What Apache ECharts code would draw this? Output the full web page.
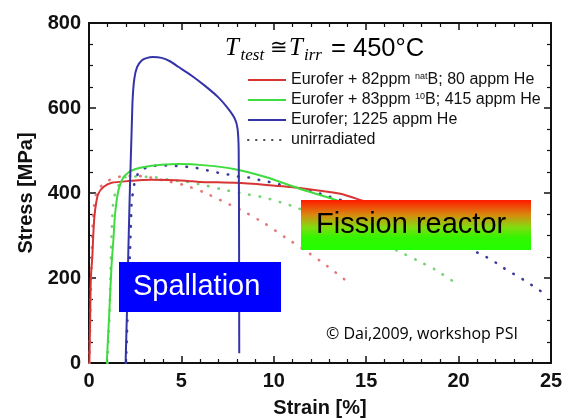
<!DOCTYPE html>
<html><head><meta charset="utf-8">
<script src="https://cdn.jsdelivr.net/npm/echarts@6/dist/echarts.min.js"></script>
<style>html,body{margin:0;padding:0;background:#fff}#c{width:571px;height:418px}</style>
</head><body><div id="c"></div>
<script>
// ---- data (strain %, stress MPa) ----
const redStrain = [0.02, 0.06, 0.1, 0.18, 0.23, 0.29, 0.38, 0.5, 0.78, 1.23, 2.1, 3.4, 5.2, 6.0, 7.9, 9.6, 11.4, 13.6, 14.8, 15.3];
const redStress = [0, 100, 200, 250, 300, 343, 375, 398, 414, 424, 428, 431, 429, 426, 424, 419, 412, 398, 382, 375];

const greenStrain = [0.96, 1.1, 1.22, 1.32, 1.41, 1.59, 1.86, 2.31, 3.39, 4.83, 6.3, 7.9, 9.6, 11.4, 13.2, 14.5, 15.5];
const greenStress = [0, 120, 230, 290, 350, 406, 437, 453, 464, 468, 465, 456, 437, 410, 386, 365, 345];

const blueStrain = [1.98, 2.06, 2.13, 2.22, 2.31, 2.36, 2.45, 2.6, 2.85, 3.15, 3.45, 3.93, 4.38, 4.83, 5.56, 6.28, 7.0, 7.54, 7.9, 8.04, 8.1, 8.12, 8.13];
const blueStress = [0, 130, 265, 420, 551, 620, 668, 696, 712, 718, 720, 718, 710, 697, 676, 652, 625, 598, 574, 551, 500, 300, 23];

const redUnirrStrain = [0.03, 0.06, 0.1, 0.14, 0.23, 0.41, 0.87, 1.41, 1.95, 2.49, 3.03, 4.11, 5.2, 6.19, 7.36, 8.44, 9.52, 10.6, 11.69, 12.77, 13.85];
const redUnirrStress = [0, 80, 170, 242, 352, 402, 425, 436, 440, 440, 439, 429, 418, 402, 378, 355, 328, 296, 265, 232, 196];

const greenUnirrStrain = [1.0, 1.06, 1.1, 1.16, 1.22, 1.32, 1.5, 1.77, 1.95, 2.49, 3.57, 4.65, 5.2, 6.28, 7.36, 8.44, 9.52, 10.6, 11.15, 12, 13, 14, 15, 16, 16.65, 17.73, 18.72, 19.71];
const greenUnirrStress = [0, 70, 100, 200, 300, 382, 410, 429, 437, 439, 437, 429, 427, 418, 407, 398, 389, 375, 367, 352, 336, 318, 298, 278, 265, 242, 220, 192];

const blueUnirrStrain = [2.0, 2.1, 2.22, 2.31, 2.4, 2.49, 2.76, 3.39, 3.93, 4.47, 5.02, 5.56, 6.1, 6.64, 7.18, 7.72, 8.26, 8.8, 9.35, 9.89, 10.43, 11.5, 12.14, 12.68, 14, 15.5, 17, 18.5, 20, 20.8, 21.34, 21.88, 22.42, 22.96, 23.5, 24.04, 24.58];
const blueUnirrStress = [0, 130, 265, 382, 406, 429, 453, 463, 465, 465, 462, 461, 456, 451, 446, 442, 437, 436, 429, 425, 419, 410, 404, 396, 378, 355, 330, 305, 280, 264, 253, 240, 224, 210, 196, 181, 165];

const seriesNames = [
  'Eurofer + 82ppm natB; 80 appm He',
  'Eurofer + 83ppm 10B; 415 appm He',
  'Eurofer; 1225 appm He',
  'unirradiated'
];
const legendLabels = [
  'Eurofer + 82ppm {sup|nat}B; 80 appm He',
  'Eurofer + 83ppm {sup|10}B; 415 appm He',
  'Eurofer; 1225 appm He',
  'unirradiated'
];
const xRange = [0, 25];
const yRange = [0, 800];

const zip = (a, b) => a.map((v, i) => [v, b[i]]);

const SANS = '"Liberation Sans", Arial, sans-serif';
const SERIF = '"Liberation Serif", "DejaVu Serif", serif';
const INK = '#111';

function axisCommon(showLabel, interval, minorSplit) {
  return {
    type: 'value',
    interval: interval,
    axisLine: { show: true, onZero: false, lineStyle: { color: INK, width: 2 } },
    axisTick: { show: true, inside: true, length: 7, lineStyle: { color: INK, width: 1.5 } },
    minorTick: { show: true, splitNumber: minorSplit, length: 4, lineStyle: { color: INK, width: 1.2 } },
    axisLabel: { show: showLabel, fontSize: 20, fontWeight: 'bold', color: INK, fontFamily: SANS, margin: 8 },
    splitLine: { show: false },
    minorSplitLine: { show: false }
  };
}

const chart = echarts.init(document.getElementById('c'), null, { renderer: 'canvas' });

const dotStyle = (color) => ({ color: color, width: 2.6, type: [0.5, 10], cap: 'round' });

const option = {
  animation: false,
  backgroundColor: '#fff',
  grid: { left: 89, right: 20, top: 23, bottom: 55, containLabel: false, outerBoundsMode: 'none' },
  xAxis: [
    Object.assign(axisCommon(true, 5, 5), {
      position: 'bottom', min: xRange[0], max: xRange[1],
      name: 'Strain [%]', nameLocation: 'middle', nameGap: 35,
      nameTextStyle: { fontSize: 20, fontWeight: 'bold', color: INK, fontFamily: SANS }
    }),
    Object.assign(axisCommon(false, 5, 5), { position: 'top', min: xRange[0], max: xRange[1] })
  ],
  yAxis: [
    Object.assign(axisCommon(true, 200, 4), {
      position: 'left', min: yRange[0], max: yRange[1],
      name: 'Stress [MPa]', nameLocation: 'middle', nameGap: 50,
      nameTextStyle: { fontSize: 20, fontWeight: 'bold', color: INK, fontFamily: SANS }
    }),
    Object.assign(axisCommon(false, 200, 4), { position: 'right', min: yRange[0], max: yRange[1] })
  ],
  legend: {
    data: seriesNames,
    orient: 'vertical',
    left: 247, top: 72,
    itemWidth: 38, itemHeight: 10, itemGap: 4,
    padding: 0,
    itemStyle: { opacity: 0, borderWidth: 0 },
    formatter: (name) => legendLabels[seriesNames.indexOf(name)],
    textStyle: {
      fontSize: 16, fontFamily: SANS, color: INK, lineHeight: 16,
      rich: { sup: { fontSize: 9, fontFamily: SANS, color: INK, verticalAlign: 'top', lineHeight: 10 } }
    }
  },
  series: [
    { name: 'ref-red', type: 'line', data: zip(redUnirrStrain, redUnirrStress), symbol: 'none', smooth: 0.2, lineStyle: dotStyle('#e37878'), z: 2 },
    { name: 'ref-green', type: 'line', data: zip(greenUnirrStrain, greenUnirrStress), symbol: 'none', smooth: 0.2, lineStyle: dotStyle('#74d474'), z: 2 },
    { name: 'ref-blue', type: 'line', data: zip(blueUnirrStrain, blueUnirrStress), symbol: 'none', smooth: 0.2, lineStyle: dotStyle('#3a3a9c'), z: 2 },
    { name: seriesNames[0], type: 'line', data: zip(redStrain, redStress), symbol: 'none', smooth: 0.2, lineStyle: { color: '#d83434', width: 2 }, itemStyle: { color: '#d83434' }, z: 3 },
    { name: seriesNames[1], type: 'line', data: zip(greenStrain, greenStress), symbol: 'none', smooth: 0.2, lineStyle: { color: '#3edc3e', width: 2 }, itemStyle: { color: '#3edc3e' }, z: 3 },
    { name: seriesNames[2], type: 'line', data: zip(blueStrain, blueStress), symbol: 'none', smooth: 0.2, lineStyle: { color: '#3434a8', width: 2 }, itemStyle: { color: '#3434a8' }, z: 3 },
    { name: seriesNames[3], type: 'line', data: [], symbol: 'none', lineStyle: { color: '#444', width: 2.6, type: [0.5, 7.5], cap: 'round' }, itemStyle: { color: '#444' } }
  ],
  graphic: [
    // title  T_test ≅ T_irr = 450°C
    { type: 'text', z: 100, style: { x: 225, y: 48.5, text: 'T', font: 'italic 25px ' + SERIF, fill: '#000', verticalAlign: 'middle' } },
    { type: 'text', z: 100, style: { x: 240.5, y: 56, text: 'test', font: 'italic 17px ' + SERIF, fill: '#000', verticalAlign: 'middle' } },
    { type: 'text', z: 100, style: { x: 269.5, y: 48, text: '≅', font: '21px ' + SERIF, fill: '#000', verticalAlign: 'middle' } },
    { type: 'text', z: 100, style: { x: 289, y: 48.5, text: 'T', font: 'italic 25px ' + SERIF, fill: '#000', verticalAlign: 'middle' } },
    { type: 'text', z: 100, style: { x: 304, y: 56, text: 'irr', font: 'italic 17px ' + SERIF, fill: '#000', verticalAlign: 'middle' } },
    { type: 'text', z: 100, style: { x: 331, y: 48.5, text: '= 450°C', font: '25.5px ' + SANS, fill: '#000', verticalAlign: 'middle' } },
    // Spallation box
    { type: 'rect', z: 100, shape: { x: 119, y: 262, width: 162, height: 50 }, style: { fill: '#0000ff' } },
    { type: 'text', z: 101, style: { x: 133, y: 287, text: 'Spallation', font: '29px ' + SANS, fill: '#fff', verticalAlign: 'middle' } },
    // Fission reactor box
    { type: 'rect', z: 100, shape: { x: 301, y: 200, width: 230, height: 50 },
      style: { fill: new echarts.graphic.LinearGradient(0, 0, 0, 1, [
        { offset: 0, color: '#ff1a00' }, { offset: 0.3, color: '#d88a10' },
        { offset: 0.55, color: '#80dd10' }, { offset: 0.75, color: '#33f500' }, { offset: 1, color: '#22ff00' }]) } },
    { type: 'text', z: 101, style: { x: 316, y: 224.5, text: 'Fission reactor', font: '29px ' + SANS, fill: '#000', verticalAlign: 'middle' } },
    // credit
    { type: 'text', z: 100, style: { x: 326, y: 334, text: '© Dai,2009, workshop PSI', font: '16px "Open Sans", sans-serif', fill: '#000', verticalAlign: 'middle' } }
  ]
};
chart.setOption(option);
</script></body></html>
